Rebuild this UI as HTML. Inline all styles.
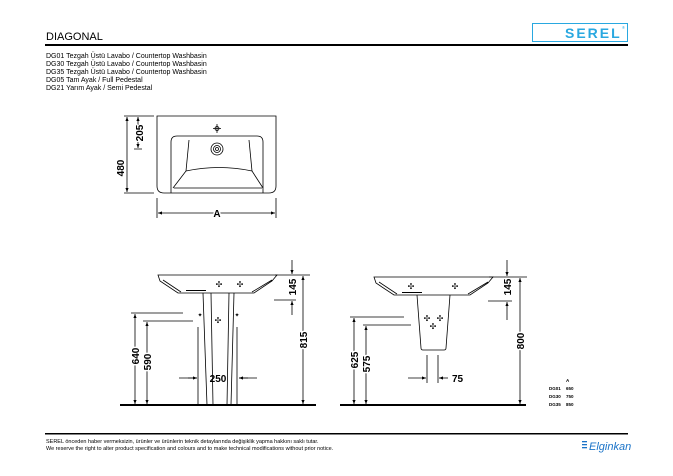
<!DOCTYPE html>
<html><head><meta charset="utf-8"><style>
html,body{margin:0;padding:0;background:#fff;}
svg{display:block;font-family:"Liberation Sans",sans-serif;}
</style></head><body>
<svg width="673" height="476" viewBox="0 0 673 476" xmlns="http://www.w3.org/2000/svg">
<defs>
<marker id="ar" viewBox="0 0 10 10" refX="10" refY="5" markerWidth="5" markerHeight="5" orient="auto-start-reverse"><path d="M0,1 L10,5 L0,9z" fill="#000"/></marker>
</defs>
<!-- header -->
<text x="46" y="40" font-size="11">DIAGONAL</text>
<rect x="45" y="44" width="583" height="2" fill="#000"/>
<rect x="532.5" y="23.5" width="95" height="18" fill="none" stroke="#29a8e0" stroke-width="1"/>
<text x="565" y="38" font-size="14" font-weight="bold" fill="#29a8e0" letter-spacing="2">SEREL</text>
<text x="622" y="29" font-size="4" fill="#29a8e0">®</text>
<g font-size="7" fill="#000">
<text x="46" y="58">DG01 Tezgah Üstü Lavabo / Countertop Washbasin</text>
<text x="46" y="66">DG30 Tezgah Üstü Lavabo / Countertop Washbasin</text>
<text x="46" y="74">DG35 Tezgah Üstü Lavabo / Countertop Washbasin</text>
<text x="46" y="82">DG05 Tam Ayak / Full Pedestal</text>
<text x="46" y="90">DG21 Yarım Ayak / Semi Pedestal</text>
</g>
<g fill="none" stroke="#000" stroke-width="0.8">
<!-- top view -->
<path d="M157,116 H276 V186 Q276,193 269,193 H164 Q157,193 157,186 Z"/>
<path d="M171,193 V142 Q171,136 177,136 H257 Q263,136 263,142 V193"/>
<path d="M189,140 L186,171 L173,188 M249,140 L252,171 L263,188 M186,171 Q219,164 252,171 M174,188 H262"/>
<circle cx="217" cy="149" r="6"/><circle cx="217" cy="149" r="3.5"/><circle cx="217" cy="149" r="1.5"/>
<path d="M217,124 v9 M213,128.5 h8"/><circle cx="217" cy="128.5" r="2"/>
<path d="M124,116 H154 M124,193 H154 M134,149 H142"/>
<line x1="127" y1="117" x2="127" y2="192" marker-start="url(#ar)" marker-end="url(#ar)"/>
<line x1="138" y1="117" x2="138" y2="148" marker-start="url(#ar)" marker-end="url(#ar)"/>
<path d="M157,198 V218 M276,198 V218"/>
<line x1="158" y1="213" x2="275" y2="213" marker-start="url(#ar)" marker-end="url(#ar)"/>
<!-- front view 1 -->
<path d="M158,275 H277 L272,281 L254,293 H178 L160,281 Z M163,280 L181,292 M272,280 L252,292"/>
<path d="M203,293 L207,405 M211,293 L213,405 M229,293 L227,405 M234,293 L231,405"/>
<path d="M275,275 H310 M274,300 H296 M131,313 H183 M143,321 H193 M179,378 H197 M239,378 H257"/>
<line x1="292" y1="260" x2="292" y2="274" marker-end="url(#ar)"/>
<line x1="292" y1="315" x2="292" y2="301" marker-end="url(#ar)"/>
<line x1="303" y1="276" x2="303" y2="404" marker-start="url(#ar)" marker-end="url(#ar)"/>
<line x1="135" y1="314" x2="135" y2="404" marker-start="url(#ar)" marker-end="url(#ar)"/>
<line x1="147" y1="322" x2="147" y2="404" marker-start="url(#ar)" marker-end="url(#ar)"/>
<line x1="188" y1="378" x2="197" y2="378" marker-end="url(#ar)"/>
<line x1="248" y1="378" x2="239" y2="378" marker-end="url(#ar)"/>
<path d="M198,327 V405 M237,327 V405"/>
<!-- front view 2 -->
<path d="M374,277 H493 L488,283 L470,295 H394 L376,283 Z M379,282 L397,294 M488,282 L468,294"/>
<path d="M417,295 L421,348 Q421,350 423,350 H444 Q446,350 446,348 L450,295"/>
<path d="M489,277 H527 M488,301 H512 M350,317 H404 M363,325 H411 M427,355 V383 M438,355 V383"/>
<line x1="507" y1="260" x2="507" y2="276" marker-end="url(#ar)"/>
<line x1="507" y1="320" x2="507" y2="302" marker-end="url(#ar)"/>
<line x1="520" y1="278" x2="520" y2="404" marker-start="url(#ar)" marker-end="url(#ar)"/>
<line x1="354" y1="318" x2="354" y2="404" marker-start="url(#ar)" marker-end="url(#ar)"/>
<line x1="366" y1="326" x2="366" y2="404" marker-start="url(#ar)" marker-end="url(#ar)"/>
<line x1="408" y1="378" x2="426" y2="378" marker-end="url(#ar)"/>
<line x1="448" y1="378" x2="439" y2="378" marker-end="url(#ar)"/>
</g>
<g fill="#000">
<path d="M186,290 h20 v1 h-20z M402,292 h20 v1 h-20z"/>
<text x="219" y="287" font-size="8" text-anchor="middle">✣</text>
<text x="240" y="287" font-size="8" text-anchor="middle">✣</text>
<text x="218" y="323" font-size="8" text-anchor="middle">✣</text>
<text x="200" y="317" font-size="6" text-anchor="middle">✦</text>
<text x="237" y="317" font-size="6" text-anchor="middle">✦</text>
<text x="411" y="289" font-size="8" text-anchor="middle">✣</text>
<text x="455" y="289" font-size="8" text-anchor="middle">✣</text>
<text x="427" y="321" font-size="8" text-anchor="middle">✣</text>
<text x="440" y="321" font-size="8" text-anchor="middle">✣</text>
<text x="433" y="329" font-size="8" text-anchor="middle">✣</text>
<rect x="120" y="404" width="196" height="2"/>
<rect x="340" y="404" width="186" height="2"/>
</g>
<g font-size="10" font-weight="bold" font-family="'Liberation Sans Narrow','Liberation Sans',sans-serif">
<text x="0" y="0" transform="translate(124,168) rotate(-90)" text-anchor="middle">480</text>
<text x="0" y="0" transform="translate(143,133) rotate(-90)" text-anchor="middle" fill="#000" stroke="#fff" stroke-width="2" paint-order="stroke">205</text>
<text x="217" y="217" text-anchor="middle" fill="#000" stroke="#fff" stroke-width="3" paint-order="stroke">A</text>
<text x="0" y="0" transform="translate(296,287) rotate(-90)" text-anchor="middle">145</text>
<text x="0" y="0" transform="translate(307,340) rotate(-90)" text-anchor="middle" stroke="#fff" stroke-width="3" paint-order="stroke">815</text>
<text x="0" y="0" transform="translate(139,356) rotate(-90)" text-anchor="middle" stroke="#fff" stroke-width="3" paint-order="stroke">640</text>
<text x="0" y="0" transform="translate(151,362) rotate(-90)" text-anchor="middle" stroke="#fff" stroke-width="3" paint-order="stroke">590</text>
<text x="218" y="382" text-anchor="middle">250</text>
<text x="0" y="0" transform="translate(511,287) rotate(-90)" text-anchor="middle">145</text>
<text x="0" y="0" transform="translate(524,341) rotate(-90)" text-anchor="middle" stroke="#fff" stroke-width="3" paint-order="stroke">800</text>
<text x="0" y="0" transform="translate(358,360) rotate(-90)" text-anchor="middle" stroke="#fff" stroke-width="3" paint-order="stroke">625</text>
<text x="0" y="0" transform="translate(370,364) rotate(-90)" text-anchor="middle" stroke="#fff" stroke-width="3" paint-order="stroke">575</text>
<text x="452" y="382">75</text>
</g>
<g font-size="4.5" font-weight="bold">
<text x="566" y="382">A</text>
<text x="549" y="390">DG01</text><text x="566" y="390">650</text>
<text x="549" y="398">DG30</text><text x="566" y="398">750</text>
<text x="549" y="406">DG35</text><text x="566" y="406">850</text>
</g>
<!-- footer -->
<rect x="45" y="433" width="583" height="1.5" fill="#000"/>
<g font-size="5.5">
<text x="46" y="443">SEREL önceden haber vermeksizin, ürünler ve ürünlerin teknik detaylarında değişiklik yapma hakkını saklı tutar.</text>
<text x="46" y="450">We reserve the right to alter product specification and colours and to make technical modifications without prior notice.</text>
</g>
<g fill="#1a73c8">
<rect x="582" y="441" width="5" height="1.3"/><rect x="582" y="444" width="5" height="1.3"/><rect x="582" y="447" width="5" height="1.3"/>
<text x="589" y="450" font-size="11" font-style="italic">Elginkan</text>
</g>
</svg>
</body></html>
